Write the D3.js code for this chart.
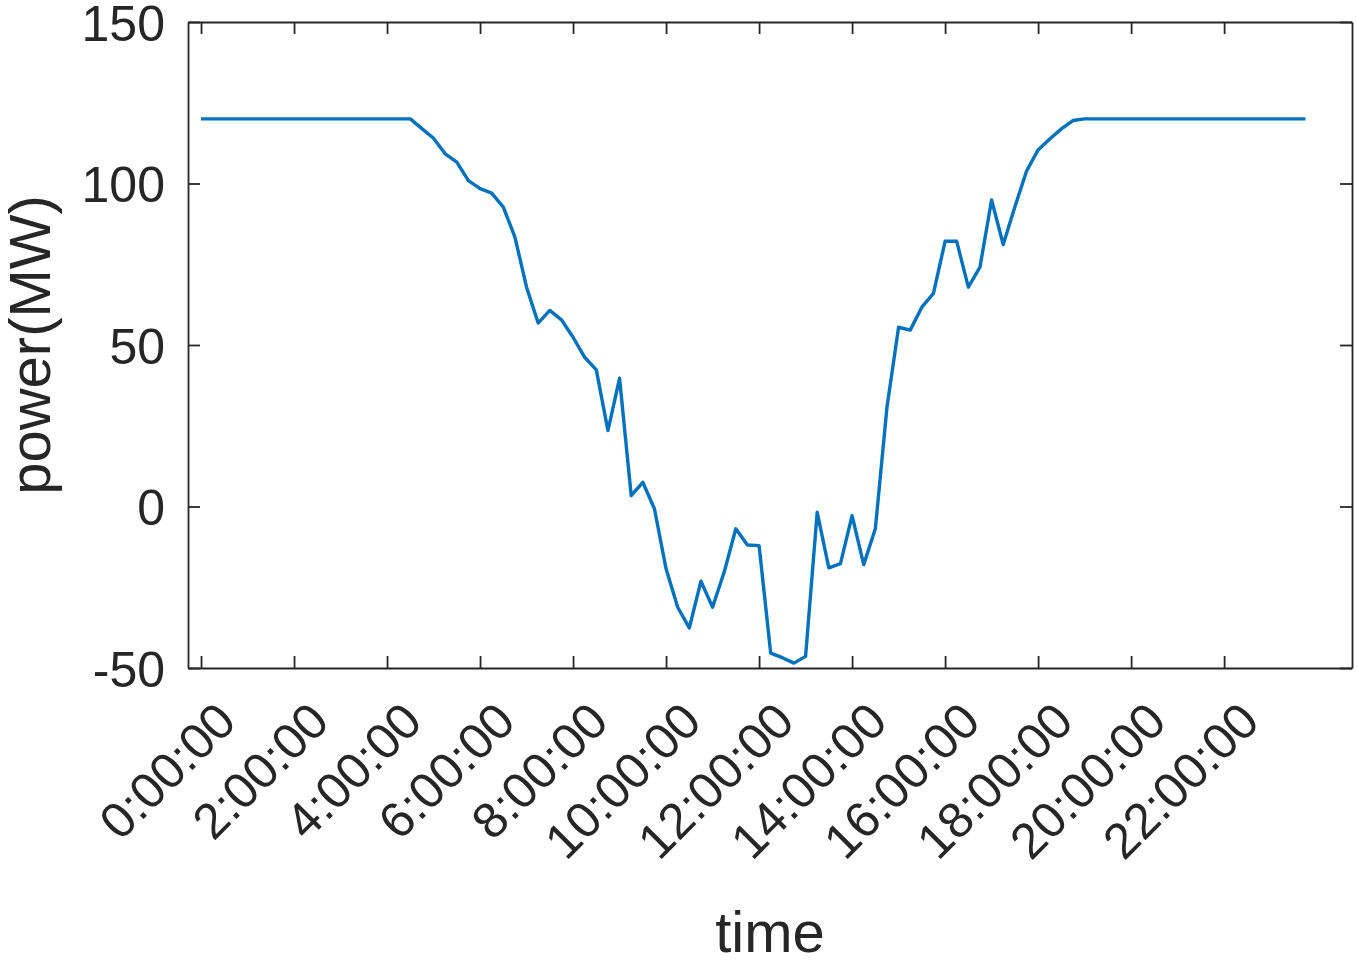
<!DOCTYPE html>
<meta charset="utf-8">
<script src="https://d3js.org/d3.v7.min.js"></script>
<style>
body { margin: 0; background: #fff; }
svg { font-family: "Liberation Sans", Arial, sans-serif; }
.axis path, .axis line { stroke: #262626; stroke-width: 1.8px; }
.axis text { fill: #262626; font-size: 50px; }
.label { fill: #262626; font-size: 58px; }
</style>
<body>
<script>

// power every 15 minutes, 0:00 .. 23:45
var power = [
  120, 120, 120, 120, 120, 120, 120, 120, 120, 120,
  120, 120, 120, 120, 120, 120, 120, 120, 120, 117,
  114, 109.2, 106.6, 100.9, 98.4, 97.0, 92.7, 83.4, 67.9, 56.8,
  60.7, 57.8, 52.4, 46.2, 42.3, 23.5, 39.7, 3.4, 7.5, -0.7,
  -19.3, -31.2, -37.6, -23.1, -31.2, -20.3, -6.9, -11.9, -12.1, -45.4,
  -46.8, -48.5, -46.4, -1.8, -19.0, -17.7, -2.8, -18.0, -6.9, 30.7,
  55.5, 54.6, 61.7, 66.0, 82.1, 82.1, 67.9, 74.1, 94.9, 81.1,
  92.7, 103.8, 110.4, 113.8, 116.9, 119.5, 120, 120, 120, 120,
  120, 120, 120, 120, 120, 120, 120, 120, 120, 120,
  120, 120, 120, 120, 120, 120
];
var stepHours = 0.25;

var xTickHours = [0, 2, 4, 6, 8, 10, 12, 14, 16, 18, 20, 22];
var xTickLabels = ["0:00:00", "2:00:00", "4:00:00", "6:00:00", "8:00:00", "10:00:00",
  "12:00:00", "14:00:00", "16:00:00", "18:00:00", "20:00:00", "22:00:00"];
var yTicks = [-50, 0, 50, 100, 150];
var yTickLabels = ["-50", "0", "50", "100", "150"];

var data = power.map(function(v, i) { return {t: i * stepHours, v: v}; });

var W = 1358, H = 961;
var margin = {top: 22, right: 6, bottom: 293, left: 188};
var width = W - margin.left - margin.right,
    height = H - margin.top - margin.bottom;

var svg = d3.select("body").append("svg")
    .attr("width", W)
    .attr("height", H)
  .append("g")
    .attr("transform", "translate(" + margin.left + "," + margin.top + ")");

var xScale = d3.scaleLinear().domain([-0.28, 24.75]).range([0, width]);
var yScale = d3.scaleLinear().domain([-50, 150]).range([height, 0]);

// axes, ticks pointing inward, mirrored on top/right
var xAxis = d3.axisBottom(xScale)
  .tickValues(xTickHours)
  .tickFormat(function(d, i) { return xTickLabels[i]; })
  .tickSizeInner(-12).tickSizeOuter(0);

var gx = svg.append("g")
    .attr("class", "x axis")
    .attr("transform", "translate(0," + height + ")")
    .call(xAxis);

gx.selectAll("text")
    .attr("text-anchor", "end")
    .attr("x", null).attr("y", null).attr("dy", null)
    .attr("transform", "translate(37,56) rotate(-45)");

svg.append("g")
    .attr("class", "axis")
    .call(d3.axisTop(xScale).tickValues(xTickHours).tickFormat("")
      .tickSizeInner(-12).tickSizeOuter(0));

var gy = svg.append("g")
    .attr("class", "y axis")
    .call(d3.axisLeft(yScale).tickValues(yTicks)
      .tickFormat(function(d, i) { return yTickLabels[i]; })
      .tickSizeInner(-12).tickSizeOuter(0).tickPadding(23));

gy.selectAll("text").attr("dy", "0.36em");

svg.append("g")
    .attr("class", "axis")
    .attr("transform", "translate(" + width + ",0)")
    .call(d3.axisRight(yScale).tickValues(yTicks).tickFormat("")
      .tickSizeInner(-12).tickSizeOuter(0));

var line = d3.line()
  .x(function(d) { return xScale(d.t); })
  .y(function(d) { return yScale(d.v); });

svg.append("path")
    .datum(data)
    .attr("fill", "none")
    .attr("stroke", "#0072BD")
    .attr("stroke-width", 3.4)
    .attr("stroke-linejoin", "round")
    .attr("d", line);

svg.append("text")
    .attr("class", "label")
    .attr("text-anchor", "middle")
    .attr("x", width / 2)
    .attr("y", 952 - margin.top)
    .text("time");

svg.append("text")
    .attr("class", "label")
    .attr("text-anchor", "middle")
    .attr("transform", "translate(" + (50 - margin.left) + "," + (height / 2) + ") rotate(-90)")
    .text("power(MW)");

</script>
</body>
